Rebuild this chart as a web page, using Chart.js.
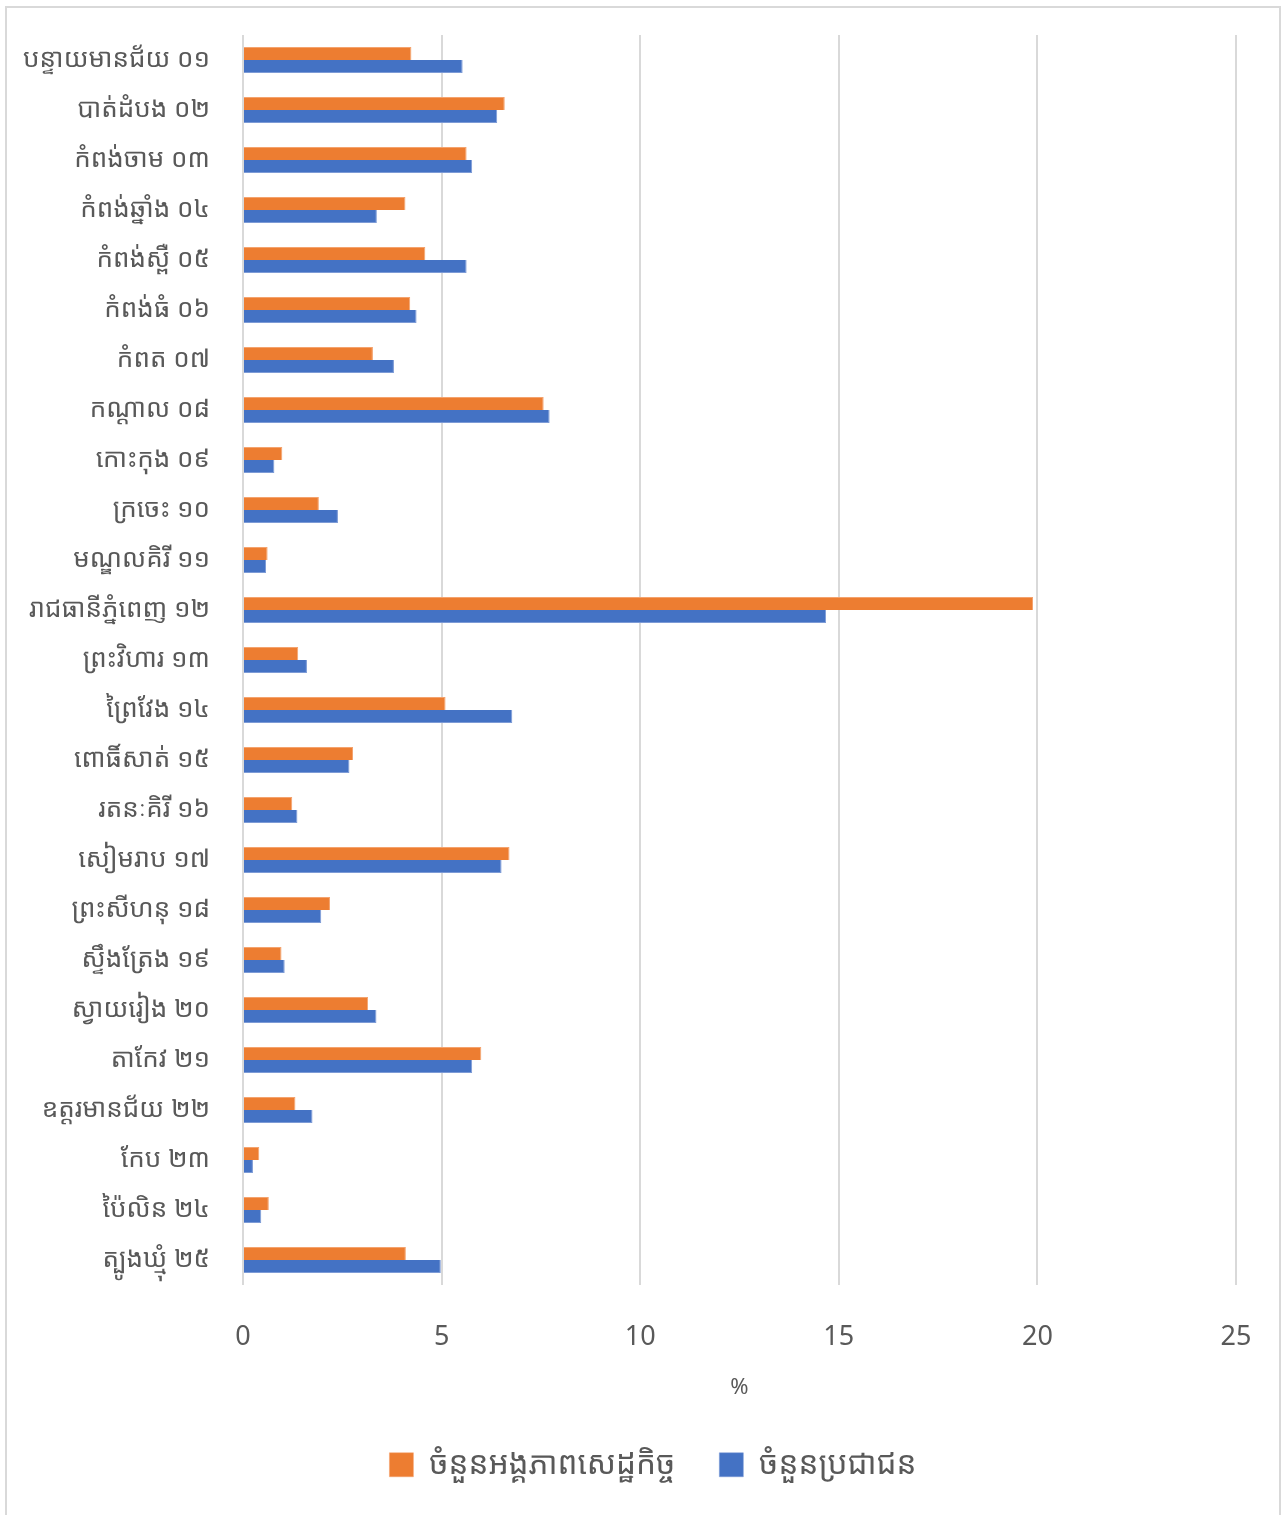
<!DOCTYPE html>
<html>
<head>
<meta charset="utf-8">
<script src="https://cdn.jsdelivr.net/npm/chart.js@4"></script>
<style>
  html, body { margin: 0; padding: 0; background: #fff; }
  #wrap { position: relative; width: 1284px; height: 1515px; overflow: hidden; }
  #frame {
    position: absolute; left: 5px; top: 6px; width: 1276px; height: 1520px;
    border: 2px solid #d9d9d9; box-sizing: border-box;
  }
  canvas { position: absolute; left: 0; top: 0; }
</style>
</head>
<body>
<div id="wrap">
  <div id="frame"></div>
  <canvas id="chart" width="1284" height="1515"></canvas>
</div>
<script>
  const provinces = [
    'បន្ទាយមានជ័យ ០១', 'បាត់ដំបង ០២', 'កំពង់ចាម ០៣', 'កំពង់ឆ្នាំង ០៤', 'កំពង់ស្ពឺ ០៥',
    'កំពង់ធំ ០៦', 'កំពត ០៧', 'កណ្ដាល ០៨', 'កោះកុង ០៩', 'ក្រចេះ ១០',
    'មណ្ឌលគិរី ១១', 'រាជធានីភ្នំពេញ ១២', 'ព្រះវិហារ ១៣', 'ព្រៃវែង ១៤', 'ពោធិ៍សាត់ ១៥',
    'រតនៈគិរី ១៦', 'សៀមរាប ១៧', 'ព្រះសីហនុ ១៨', 'ស្ទឹងត្រែង ១៩', 'ស្វាយរៀង ២០',
    'តាកែវ ២១', 'ឧត្ដរមានជ័យ ២២', 'កែប ២៣', 'ប៉ៃលិន ២៤', 'ត្បូងឃ្មុំ ២៥'
  ];

  // % of economic establishments
  const establishments = [
    4.24, 6.59, 5.63, 4.09, 4.59,
    4.21, 3.27, 7.57, 0.99, 1.91,
    0.62, 19.89, 1.39, 5.10, 2.77,
    1.24, 6.71, 2.19, 0.97, 3.15,
    6.00, 1.32, 0.41, 0.65, 4.10
  ];

  // % of population
  const population = [
    5.53, 6.40, 5.77, 3.37, 5.63,
    4.37, 3.80, 7.72, 0.79, 2.39,
    0.58, 14.68, 1.61, 6.78, 2.68,
    1.37, 6.51, 1.97, 1.05, 3.36,
    5.77, 1.75, 0.25, 0.46, 4.98
  ];

  const seriesNames = ['ចំនួនអង្គភាពសេដ្ឋកិច្ច', 'ចំនួនប្រជាជន'];
  const xTicks = [0, 5, 10, 15, 20, 25];

  const textColor = '#595959';
  const fontFamily = '"Liberation Sans Narrow", "Noto Sans Khmer", "Khmer OS", sans-serif';

  // legend gets a wide gap between items (labels.padding), so give it its full
  // height back after layout and move it a bit right, like the original
  const legendNudge = {
    id: 'legendNudge',
    afterLayout(chart) {
      const lg = chart.legend;
      lg.left += 35;
      lg.right += 35;
      lg.bottom = lg.top + 120;
    }
  };

  const ctx = document.getElementById('chart').getContext('2d');
  new Chart(ctx, {
    type: 'bar',
    data: {
      labels: provinces,
      datasets: [
        {
          label: seriesNames[0],
          data: establishments,
          backgroundColor: '#ED7D31',
          borderColor: '#F4A36E',
          borderWidth: { top: 1, right: 1, bottom: 0, left: 0 },
          categoryPercentage: 0.52,
          barPercentage: 1
        },
        {
          label: seriesNames[1],
          data: population,
          backgroundColor: '#4472C4',
          borderColor: '#7D9BD6',
          borderWidth: { top: 0, right: 1, bottom: 1, left: 0 },
          categoryPercentage: 0.52,
          barPercentage: 1
        }
      ]
    },
    options: {
      indexAxis: 'y',
      responsive: false,
      animation: false,
      layout: { padding: { top: 35, right: 48, bottom: 50, left: 0 } },
      scales: {
        x: {
          min: 0,
          max: 25,
          afterBuildTicks: axis => { axis.ticks = xTicks.map(v => ({ value: v })); },
          afterFit: axis => {
            axis.height = 120;
            axis.paddingLeft = 0;
            axis.paddingRight = 0;
          },
          grid: { color: '#d9d9d9', lineWidth: 2, drawTicks: false },
          border: { display: false },
          ticks: {
            color: textColor,
            padding: 36,
            font: { family: fontFamily, size: 27 }
          },
          title: {
            display: true,
            text: '%',
            color: textColor,
            font: { family: fontFamily, size: 22 },
            padding: { top: 0, bottom: 4 }
          }
        },
        y: {
          afterFit: axis => {
            axis.width = 243;
            axis.paddingTop = 0;
            axis.paddingBottom = 0;
          },
          grid: { display: false, drawTicks: false },
          border: { display: false },
          ticks: {
            color: textColor,
            padding: 33,
            autoSkip: false,
            font: { family: fontFamily, size: 26 }
          }
        }
      },
      plugins: {
        legend: {
          position: 'bottom',
          maxHeight: 60,
          labels: {
            color: textColor,
            boxWidth: 24,
            boxHeight: 24,
            padding: 44,
            font: { family: fontFamily, size: 31.5 }
          }
        },
        tooltip: { enabled: false }
      }
    },
    plugins: [legendNudge]
  });
</script>
</body>
</html>
